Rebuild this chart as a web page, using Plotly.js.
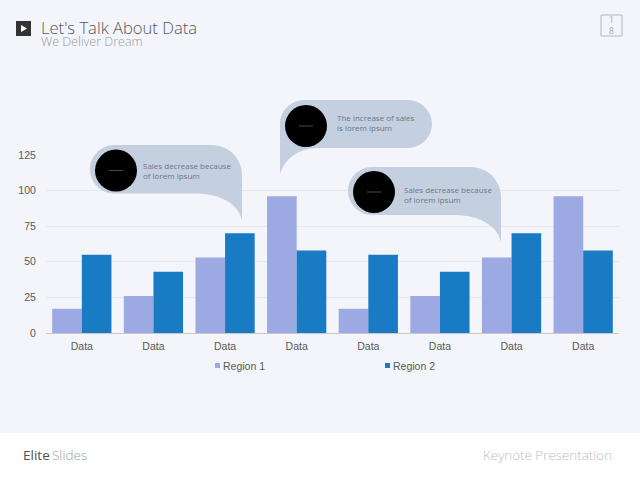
<!DOCTYPE html>
<html>
<head>
<meta charset="utf-8">
<script src="https://cdn.plot.ly/plotly-3.0.1.min.js"></script>
<style>html,body{margin:0;padding:0;background:#f3f5fa;overflow:hidden}#chart{width:640px;height:480px}</style>
</head>
<body>
<div id="chart"></div>
<script>
var categories = ["Data","Data","Data","Data","Data","Data","Data","Data"];
var region1 = [17,26,53,96,17,26,53,96];
var region2 = [55,43,70,58,55,43,70,58];
var seriesNames = ["Region 1","Region 2"];
var yTicks = [0,25,50,75,100,125];
var calloutTexts = ["Sales decrease because<br>of lorem ipsum","The increase of sales<br>is lorem ipsum","Sales decrease because<br>of lorem ipsum"];

var W = 640, H = 480;
var COL1 = "#9ca9e2", COL2 = "#187bc4", BUB = "#c4d0e0";
function X(x){return (x/W).toFixed(5);}
function Y(y){return (1-y/H).toFixed(5);}
function P(x,y){return X(x)+","+Y(y);}
function path(cmds){
  return cmds.map(function(c){
    var s = c[0];
    for(var i=1;i<c.length;i+=2){ s += (i>1?" ":"")+P(c[i],c[i+1]); }
    return s;
  }).join(" ")+" Z";
}
function shapePath(d){return {type:"path",xref:"paper",yref:"paper",path:d,fillcolor:BUB,line:{width:0},layer:"above"};}
function rect(x0,y0,x1,y1,fill,lineCol,lw){
  return {type:"rect",xref:"paper",yref:"paper",x0:x0/W,x1:x1/W,y0:1-y0/H,y1:1-y1/H,fillcolor:fill,line:{width:lw||0,color:lineCol||fill},layer:"above"};
}
function circle(cx,cy,r,fill){
  return {type:"circle",xref:"paper",yref:"paper",x0:(cx-r)/W,x1:(cx+r)/W,y0:1-(cy+r)/H,y1:1-(cy-r)/H,fillcolor:fill,line:{width:0},layer:"above"};
}
function dash(cx,cy,hw){
  return {type:"line",xref:"paper",yref:"paper",x0:(cx-hw)/W,x1:(cx+hw)/W,y0:1-cy/H,y1:1-cy/H,line:{width:1,color:"#4a4a4a"},layer:"above"};
}
function downCallout(l,t,r,b,tip){
  return path([
    ["M",l+24,t],["L",r-30,t],["C",r-13,t,r,t+14,r,t+30],["L",r,tip],
    ["C",r-4,b+10,r-22,b,r-48,b],["L",l+24,b],
    ["C",l+11,b,l,b-11,l,b-24],["C",l,t+11,l+11,t,l+24,t]
  ]);
}
function text(s,x,y,size,color,anchor,opts){
  opts = opts||{};
  anchor = anchor||"left";
  var dx = anchor==="left"?-2:(anchor==="right"?2:0);
  return {text:s,xref:"paper",yref:"paper",x:(x+dx)/W,y:1-y/H,xanchor:anchor,yanchor:"middle",showarrow:false,align:opts.align||"left",
    font:{family:opts.family||"Open Sans",size:size,color:color,weight:opts.weight||400}};
}

var shapes = [
  rect(0,433,640,480,"#ffffff"),
  shapePath(downCallout(90,145,242,193.5,220)),
  shapePath(path([
    ["M",304,100],["L",408,100],["C",421,100,432,111,432,124],["C",432,137,421,148,408,148],
    ["L",316,148],["C",298,149,285,158,280,174],["L",280,124],["C",280,111,291,100,304,100]
  ])),
  shapePath(downCallout(348,167,501,215,242)),
  circle(116,170.5,21,"#000000"), dash(116,170.5,7),
  circle(306,126,21,"#000000"), dash(306,126,7),
  circle(374,192,21,"#000000"), dash(374,192,7),
  rect(16,21,31,36,"#333333"),
  {type:"path",xref:"paper",yref:"paper",path:path([["M",21,25],["L",21,32],["L",27,28.5]]),fillcolor:"#ffffff",line:{width:0},layer:"above"},
  rect(601,15,622,36,"rgba(0,0,0,0)","#b4b7bc",1),
  rect(215,363,220,368,COL1),
  rect(385,363,390,368,COL2)
];

var annotations = [
  text("Let's Talk About Data",41,27,16.6,"#55585e","left",{weight:300}),
  text("We Deliver Dream",41,41.5,12.5,"#989ba1","left",{weight:300}),
  text("1<br>8",611.5,25.5,8.5,"#a8abb0","center",{weight:400,align:"center"}),
  text(calloutTexts[0],143,170.5,8,"#6d7686"),
  text(calloutTexts[1],337,122.5,8,"#6d7686"),
  text(calloutTexts[2],403.5,194.5,8,"#6d7686"),
  text(seriesNames[0],223,365.5,10.5,"#595959","left",{family:"Liberation Sans"}),
  text(seriesNames[1],393,365.5,10.5,"#595959","left",{family:"Liberation Sans"}),
  text("Elite",23,455,13.5,"#4f4f4f","left",{weight:500}),
  text("Slides",52,455,13.5,"#9a9a9a","left",{weight:300}),
  text("Keynote Presentation",612,455,13.4,"#bcbec2","right",{weight:300})
];

var xIdx = categories.map(function(c,i){return i;});
var traces = [
  {type:"bar",name:seriesNames[0],x:xIdx,y:region1,marker:{color:COL1},showlegend:false,hoverinfo:"skip"},
  {type:"bar",name:seriesNames[1],x:xIdx,y:region2,marker:{color:COL2},showlegend:false,hoverinfo:"skip"}
];

var layout = {
  width:W,height:H,
  margin:{l:0,r:0,t:0,b:0},
  paper_bgcolor:"#f3f5fa",plot_bgcolor:"#f3f5fa",
  barmode:"group",bargap:0.173,bargroupgap:0,
  showlegend:false,
  font:{family:"Liberation Sans",size:10.5,color:"#595959"},
  xaxis:{domain:[46/W,619/W],range:[-0.5,7.5],tickmode:"array",tickvals:xIdx,ticktext:categories,
    showgrid:false,zeroline:false,showline:true,linecolor:"#c9c9c9",linewidth:1,ticks:"outside",ticklen:3,tickcolor:"rgba(0,0,0,0)",
    tickfont:{family:"Liberation Sans",size:10.5,color:"#595959"}},
  yaxis:{domain:[1-333/H,1-155/H],range:[0,125],tickmode:"array",tickvals:yTicks,
    showgrid:true,gridcolor:"#e6e8ed",gridwidth:1,zeroline:false,showline:false,ticks:"outside",ticklen:7,tickcolor:"rgba(0,0,0,0)",
    tickfont:{family:"Liberation Sans",size:10.5,color:"#595959"}},
  shapes:shapes,
  annotations:annotations
};
Plotly.newPlot("chart",traces,layout,{displayModeBar:false,staticPlot:true});
</script>
</body>
</html>
